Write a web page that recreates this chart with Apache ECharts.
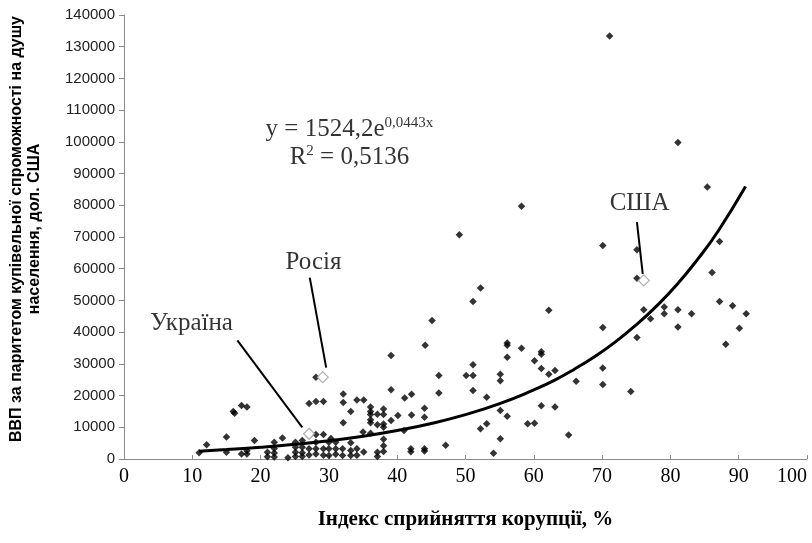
<!DOCTYPE html>
<html>
<head>
<meta charset="utf-8">
<script src="https://cdn.jsdelivr.net/npm/echarts@6/dist/echarts.min.js"></script>
<style>
  html, body { margin: 0; padding: 0; background: #fff; }
  #chart { width: 812px; height: 543px; }
</style>
</head>
<body>
<div id="chart"></div>
<script>
// [індекс сприйняття корупції %, ВВП на душу населення, дол. США]
const countries = [
  [11.0, 1950], [12.1, 4500], [15.0, 6900], [15.0, 2150], [16.0, 15000], [16.2, 14400],
  [17.2, 16900], [18.0, 16400], [17.2, 1600], [18.0, 1600], [18.0, 2600], [19.1, 5800],
  [21.0, 2150], [21.0, 700], [22.0, 5300], [22.0, 3300], [22.0, 1900], [22.0, 600],
  [23.2, 6600], [24.0, 400],
  [25.1, 5300], [25.1, 3700], [25.1, 2150], [25.1, 800],
  [26.1, 5800], [26.1, 3700], [26.1, 2000], [26.1, 800],
  [27.1, 17500], [27.1, 3200], [27.1, 1300],
  [28.1, 25800], [28.1, 18100], [28.1, 7700], [28.1, 5300], [28.1, 3200], [28.1, 1600],
  [29.2, 18100], [29.2, 7700], [29.2, 3200], [29.2, 1200],
  [30.0, 5300], [30.0, 3200], [30.0, 1100], [30.3, 6500],
  [31.0, 5300], [31.0, 3200], [31.0, 1500],
  [32.1, 20500], [32.1, 17800], [32.1, 11400], [32.0, 3200], [32.0, 1100],
  [33.2, 15000], [33.2, 5100], [33.2, 2700], [33.2, 1100],
  [34.1, 18600], [34.1, 3200], [34.1, 1200],
  [35.1, 18600], [35.0, 8500], [35.1, 2200],
  [36.1, 16400], [36.1, 15000], [36.1, 14000], [36.1, 12400], [36.1, 11400], [36.1, 8100],
  [37.1, 14100], [37.1, 10800], [37.1, 2150], [37.1, 800],
  [38.0, 15800], [38.0, 14000], [38.0, 11000], [38.0, 10000], [38.0, 6200], [38.0, 4200], [38.0, 2400],
  [39.1, 32600], [39.1, 21800], [39.1, 12150],
  [40.1, 13700],
  [41.1, 19200], [41.0, 9000],
  [42.1, 20400], [42.1, 13900], [42.0, 3200], [42.0, 2300],
  [44.1, 35900], [44.0, 16000], [44.0, 13200], [44.0, 3200], [44.0, 2500],
  [45.1, 43700],
  [46.1, 26300], [46.1, 20800],
  [47.1, 4300],
  [49.1, 70700],
  [50.1, 26300],
  [51.1, 49700], [51.1, 29700], [51.1, 26300], [51.1, 21600],
  [52.2, 53900], [52.2, 9500],
  [53.1, 19500], [53.1, 11100],
  [54.1, 1800],
  [55.1, 26700], [55.1, 24700], [55.1, 15300], [55.1, 6400],
  [56.1, 36600], [56.1, 35900], [56.1, 32100], [56.1, 13500],
  [58.2, 79700], [58.2, 34900],
  [59.1, 11100],
  [60.1, 31000], [60.1, 11300],
  [61.1, 33800], [61.1, 33000], [61.1, 28500], [61.1, 16800],
  [62.2, 46900], [62.2, 26700],
  [63.1, 27900], [63.1, 16400],
  [65.1, 7600],
  [66.2, 24500],
  [70.1, 67300], [70.1, 41500], [70.1, 28700], [70.1, 23500],
  [71.1, 133400],
  [74.2, 21300],
  [75.1, 66000], [75.1, 57000], [75.1, 38300],
  [76.1, 47100],
  [77.1, 44200],
  [79.1, 47900], [79.1, 45800],
  [81.1, 99800], [81.1, 47100], [81.1, 41600],
  [83.1, 45800],
  [85.4, 85800],
  [86.1, 58800],
  [87.2, 68600], [87.2, 49700],
  [88.1, 36200],
  [89.1, 48300],
  [90.1, 41200],
  [91.1, 45800]
];

const highlightNames = ['Україна', 'Росія', 'США'];
const highlightPoints = [[27.1, 7950], [29.1, 25800], [76.1, 56300]];

// exponential trend, values
const trendX = [11, 15, 20, 25, 30, 35, 40, 45, 50, 55, 60, 63, 66, 69, 72, 75, 78, 81, 84, 87, 91];
const trendY = [2480, 2970, 3700, 4620, 5770, 7200, 8980, 11200, 14000, 17450, 21800,
  24800, 28400, 32400, 37000, 42300, 48300, 55100, 63000, 71900, 85900];

const equationText = ['y = 1524,2e', '0,0443x', 'R', '2', ' = 0,5136'];

// annotation placement (data coordinates)
const notePos = [[9.9, 42700], [27.75, 62000], [75.5, 80600]];
const leaderFrom = [[16.6, 37400], [27.2, 57200], [75.1, 74700]];
const leaderTo = [[26.1, 10000], [29.6, 28800], [75.95, 58400]];
const equationPos = [33.0, 99500];

const serif = 'Liberation Serif';
const sans = 'Liberation Sans';

const chart = echarts.init(document.getElementById('chart'));

chart.setOption({
  animation: false,
  backgroundColor: '#fff',
  grid: { left: 124, right: 5, top: 15, bottom: 84 },
  xAxis: {
    type: 'value',
    min: 0,
    max: 100,
    interval: 10,
    name: 'Індекс сприйняття корупції, %',
    nameLocation: 'middle',
    nameGap: 50,
    nameTextStyle: { fontFamily: serif, fontWeight: 'bold', fontSize: 21, color: '#000' },
    axisLine: { lineStyle: { color: '#8a8a8a', width: 1 } },
    axisTick: { inside: true, length: 4, lineStyle: { color: '#8a8a8a' } },
    axisLabel: { fontFamily: serif, fontSize: 20, color: '#000', margin: 8, alignMaxLabel: 'right' },
    splitLine: { show: false }
  },
  yAxis: {
    type: 'value',
    min: 0,
    max: 140000,
    interval: 10000,
    name: 'ВВП за паритетом купівельної спроможності на душу\nнаселення, дол. США',
    nameLocation: 'middle',
    nameRotate: 90,
    nameGap: 80,
    nameTextStyle: {
      fontFamily: sans,
      fontWeight: 'bold',
      fontSize: 16,
      color: '#000',
      lineHeight: 18,
      padding: [0, 0, 0, 16]
    },
    axisLine: { show: true, lineStyle: { color: '#8a8a8a', width: 1 } },
    axisTick: { show: true, length: 5, lineStyle: { color: '#8a8a8a' } },
    axisLabel: {
      fontFamily: sans,
      fontSize: 15,
      color: '#222',
      margin: 9,
      formatter: v => String(v)
    },
    splitLine: { show: false }
  },
  series: [
    {
      name: 'countries',
      type: 'scatter',
      data: countries,
      symbol: 'diamond',
      symbolSize: 7.5,
      itemStyle: { color: '#000' },
      z: 2
    },
    {
      name: 'trend',
      type: 'line',
      data: trendX.map((x, i) => [x, trendY[i]]),
      smooth: true,
      showSymbol: false,
      lineStyle: { color: '#000', width: 3 },
      z: 3
    },
    {
      name: 'leaders',
      type: 'scatter',
      data: [],
      markLine: {
        silent: true,
        symbol: ['none', 'none'],
        label: { show: false },
        lineStyle: { color: '#000', width: 2, type: 'solid' },
        data: leaderFrom.map((p, i) => [{ coord: p }, { coord: leaderTo[i] }])
      },
      z: 4
    },
    {
      name: 'highlight',
      type: 'scatter',
      data: highlightPoints.map((p, i) => ({ name: highlightNames[i], value: p })),
      symbol: 'diamond',
      symbolSize: 11,
      itemStyle: { color: '#fff', borderColor: '#9a9a9a', borderWidth: 1.2 },
      z: 5
    },
    {
      name: 'notes',
      type: 'scatter',
      symbolSize: 0,
      silent: true,
      data: notePos.map((p, i) => ({ name: highlightNames[i], value: p })),
      label: {
        show: true,
        position: 'inside',
        formatter: '{b}',
        fontFamily: serif,
        fontSize: 25,
        color: '#000'
      },
      z: 6
    },
    {
      name: 'equation',
      type: 'scatter',
      symbolSize: 0,
      silent: true,
      data: [{ value: equationPos }],
      label: {
        show: true,
        position: 'inside',
        formatter: '{m|' + equationText[0] + '}{s|' + equationText[1] + '}\n' +
          '{m|' + equationText[2] + '}{s|' + equationText[3] + '}{m|' + equationText[4] + '}',
        align: 'center',
        rich: {
          m: { fontFamily: serif, fontSize: 25, color: '#000', lineHeight: 28 },
          s: { fontFamily: serif, fontSize: 15, color: '#000', lineHeight: 28, verticalAlign: 'top' }
        }
      },
      z: 6
    }
  ]
});
</script>
</body>
</html>
